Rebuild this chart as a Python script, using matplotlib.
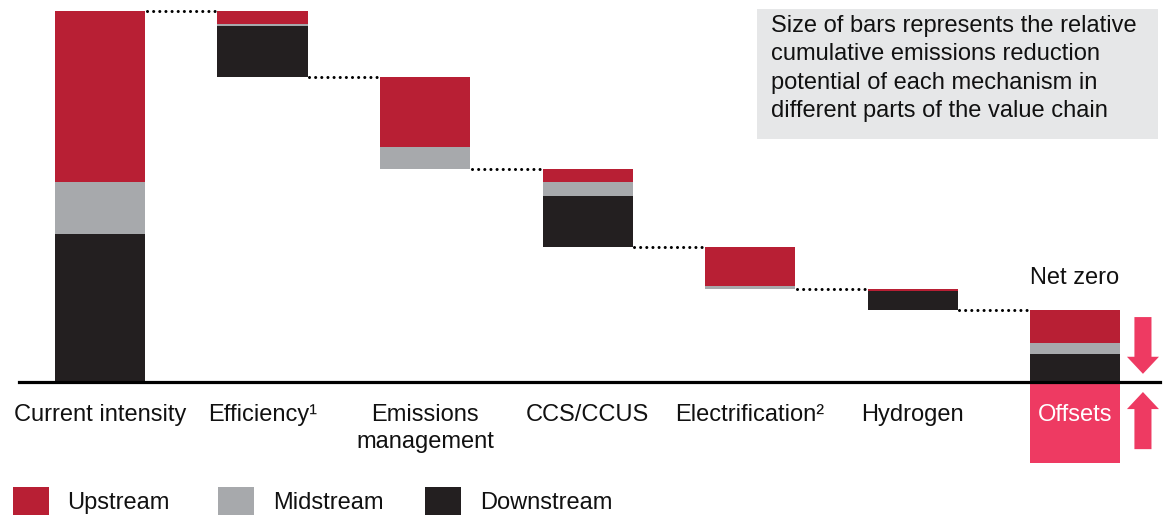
import matplotlib
matplotlib.use('Agg')
import matplotlib.pyplot as plt
from matplotlib.patches import FancyArrow, Rectangle
import numpy as np

plt.rcParams['font.family'] = ['Liberation Sans', 'DejaVu Sans']

# waterfall data (relative units, current intensity = 100)
categories = ['Current intensity', 'Efficiency\u00b9', 'Emissions\nmanagement', 'CCS/CCUS',
              'Electrification\u00b2', 'Hydrogen', 'Offsets']
kinds = ['total', 'step', 'step', 'step', 'step', 'step', 'total']
upstream = [46.0, 3.5, 19.0, 3.5, 10.5, 0.5, 9.0]
midstream = [14.0, 0.5, 6.0, 3.7, 0.8, 0.0, 3.0]
downstream = [40.0, 13.7, 0.0, 13.8, 0.0, 5.0, 7.5]
offsets = 21.8

RED = '#b81f34'
GREY = '#a7a9ac'
BLACK = '#231f20'
PINK = '#ee3a62'
BOXGREY = '#e6e7e8'

W, H = 1167, 515
fig = plt.figure(figsize=(W / 100, H / 100), dpi=100)
ax = fig.add_axes([0, 0, 1, 1])
ax.set_xlim(-0.6154, 6.566)
ax.set_ylim(-35.85, 102.96)
ax.axis('off')

up = np.array(upstream)
mid = np.array(midstream)
down = np.array(downstream)
tot = up + mid + down
x = np.arange(len(categories))
width = 0.554

bottoms = []
levels = []
level = 0.0
for k, t in zip(kinds, tot):
    if k == 'total':
        b = 0.0
        level = t
    else:
        b = level - t
        level = b
    bottoms.append(b)
    levels.append(level)
bottoms = np.array(bottoms)

ax.bar(x, down, width, bottom=bottoms, color=BLACK, zorder=2)
ax.bar(x, mid, width, bottom=bottoms + down, color=GREY, zorder=2)
ax.bar(x, up, width, bottom=bottoms + down + mid, color=RED, zorder=2)

# offsets block below the zero line
ax.bar(x[-1], -offsets, width, bottom=0, color=PINK, zorder=2)

# dotted connectors
for i in range(len(x) - 1):
    ax.plot([x[i] + width / 2 + 0.01, x[i + 1] - width / 2 - 0.01], [levels[i], levels[i]],
            color='black', lw=2.2, linestyle=(0, (0.01, 2.0)), dash_capstyle='round',
            solid_capstyle='round', zorder=1)

ax.axhline(0, xmin=19 / W, xmax=1160 / W, color='black', lw=2.3, zorder=3)

fs = 17
px_y = 3.71  # pixels per unit
for i, lab in enumerate(categories):
    c = 'white' if i == len(categories) - 1 else '#111111'
    for j, line in enumerate(lab.split('\n')):
        ax.text(x[i], -10.43 - j * 27 / px_y, line, ha='center', va='baseline',
                fontsize=fs, color=c, zorder=4)

ax.text(x[-1], levels[-1] + 6.8, 'Net zero', ha='center', va='baseline', fontsize=fs,
        color='#111111')

# arrows next to net zero
arr_x = x[-1] + 0.418
ax.add_patch(FancyArrow(arr_x, 17.5, 0, -15.3, width=0.105, head_width=0.197,
                        head_length=4.6, length_includes_head=True, color=PINK, lw=0))
ax.add_patch(FancyArrow(arr_x, -18.1, 0, 15.4, width=0.105, head_width=0.197,
                        head_length=4.6, length_includes_head=True, color=PINK, lw=0))

# note box
ax.add_patch(Rectangle((757 / W, 1 - 139 / H), 401 / W, 130 / H, transform=ax.transAxes,
                       color=BOXGREY, lw=0, zorder=0))
note = ['Size of bars represents the relative',
        'cumulative emissions reduction',
        'potential of each mechanism in',
        'different parts of the value chain']
for j, line in enumerate(note):
    ax.text(771 / W, 1 - (32 + 28.3 * j) / H, line, transform=ax.transAxes, ha='left',
            va='baseline', fontsize=fs, color='#111111')

# legend
legend_items = [('Upstream', RED, 13, 67), ('Midstream', GREY, 218, 273),
                ('Downstream', BLACK, 425, 480)]
for name, col, sx, tx in legend_items:
    ax.add_patch(Rectangle((sx / W, 0), 36 / W, 28 / H, transform=ax.transAxes,
                           color=col, lw=0))
    ax.text(tx / W, 1 - 509 / H, name, transform=ax.transAxes, ha='left', va='baseline',
            fontsize=fs, color='#111111')

fig.savefig('out.png', dpi=100)
